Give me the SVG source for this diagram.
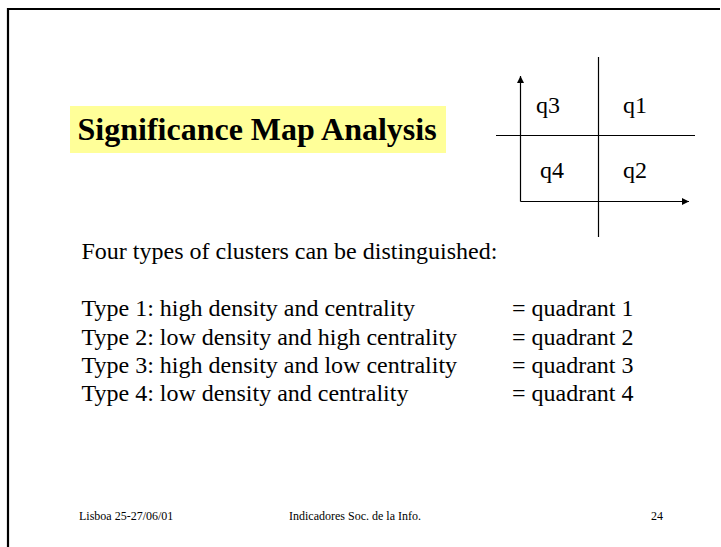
<svg xmlns="http://www.w3.org/2000/svg" width="721" height="547" viewBox="0 0 721 547">
  <style>
    .serif { font-family: "Liberation Serif", "Times New Roman", serif; fill: #000; }
    .title { font-size: 32px; font-weight: bold; }
    .body { font-size: 24px; }
    .foot { font-size: 12px; }
    .axis { stroke: #000; stroke-width: 1.2; fill: none; }
  </style>
  <defs>
    <marker id="arrow" viewBox="0 0 10 10" refX="10" refY="5" markerWidth="8" markerHeight="7" markerUnits="userSpaceOnUse" orient="auto">
      <path d="M0,0 L10,5 L0,10 Z" fill="#000"/>
    </marker>
  </defs>

  <rect width="721" height="547" fill="#fff"/>

  <!-- slide frame (only top and left edges fall inside the view) -->
  <path d="M8,547 V9 H720" fill="none" stroke="#000" stroke-width="2.2"/>

  <!-- title -->
  <g id="title">
    <rect x="70" y="106" width="376" height="47" fill="#ffff99"/>
    <text class="serif title" x="77.5" y="140">Significance Map Analysis</text>
  </g>

  <!-- quadrant chart -->
  <g id="quadrant-chart">
    <g id="connectors">
      <line class="axis" x1="598.5" y1="57" x2="598.5" y2="237"/>
      <line class="axis" x1="496" y1="135.5" x2="695" y2="135.5"/>
      <line class="axis" x1="520.5" y1="201.5" x2="520.5" y2="76" marker-end="url(#arrow)"/>
      <line class="axis" x1="520.5" y1="201.5" x2="689" y2="201.5" marker-end="url(#arrow)"/>
    </g>
    <g id="q3"><text class="serif body" x="536" y="113">q3</text></g>
    <g id="q1"><text class="serif body" x="623" y="113">q1</text></g>
    <g id="q4"><text class="serif body" x="540" y="178">q4</text></g>
    <g id="q2"><text class="serif body" x="623" y="178">q2</text></g>
  </g>

  <!-- body text -->
  <g id="body">
    <text class="serif body" x="81.5" y="259">Four types of clusters can be distinguished:</text>
    <text class="serif body" x="81.5" y="316">Type 1: high density and centrality</text>
    <text class="serif body" x="81.5" y="344.5">Type 2: low density and high centrality</text>
    <text class="serif body" x="81.5" y="373">Type 3: high density and low centrality</text>
    <text class="serif body" x="81.5" y="401">Type 4: low density and centrality</text>
    <text class="serif body" x="512" y="316">= quadrant 1</text>
    <text class="serif body" x="512" y="344.5">= quadrant 2</text>
    <text class="serif body" x="512" y="373">= quadrant 3</text>
    <text class="serif body" x="512" y="401">= quadrant 4</text>
  </g>

  <!-- footer -->
  <g id="footer">
    <text class="serif foot" x="79" y="520">Lisboa 25-27/06/01</text>
    <text class="serif foot" x="289" y="520">Indicadores Soc. de la Info.</text>
    <text class="serif foot" x="651" y="520">24</text>
  </g>
</svg>
